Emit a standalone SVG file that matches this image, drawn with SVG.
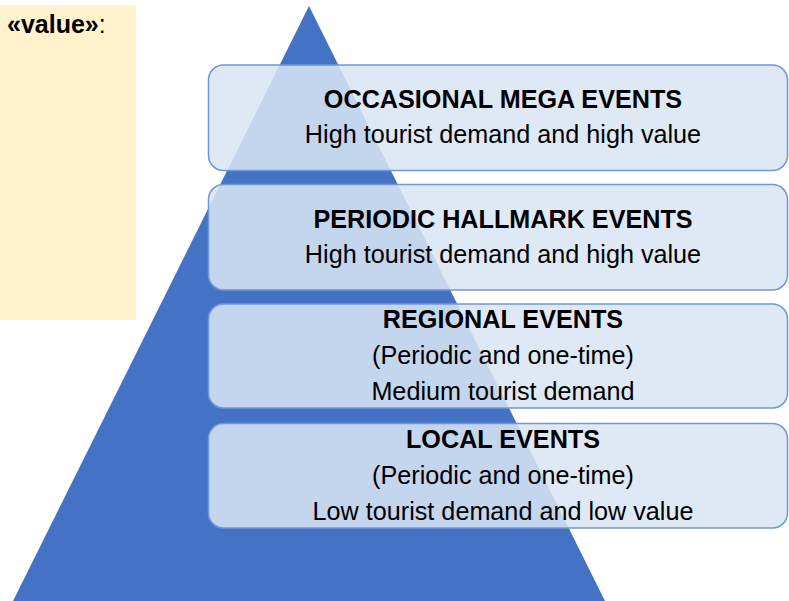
<svg xmlns="http://www.w3.org/2000/svg" width="789" height="601" viewBox="0 0 789 601">
  <style>
    .lbl { font-family: "Liberation Sans", Arial, sans-serif; fill: #000; text-anchor: middle; }
    .title { font-size: 25.2px; font-weight: bold; }
    .sub { font-size: 25.2px; }
    .tier { fill: #DAE5F4; fill-opacity: 0.86; stroke: #7196D8; stroke-width: 1.5; }
  </style>

  <rect width="789" height="601" fill="#FFFFFF"/>

  <!-- note panel -->
  <g id="value-note">
    <rect x="0" y="5" width="136" height="315" fill="#FFF2CC"/>
    <text x="7" y="33" font-family="Liberation Sans, Arial, sans-serif" font-size="25" fill="#000"><tspan font-weight="bold">«value»</tspan>:</text>
  </g>

  <!-- pyramid -->
  <g id="pyramid">
    <polygon points="309,6 605,601 13,601" fill="#4472C4"/>
  </g>

  <g id="tier-mega">
    <rect class="tier" x="208.5" y="65" width="579" height="105.5" rx="15"/>
    <text class="lbl title" x="503" y="108">OCCASIONAL MEGA EVENTS</text>
    <text class="lbl sub" x="503" y="143">High tourist demand and high value</text>
  </g>

  <g id="tier-hallmark">
    <rect class="tier" x="208.5" y="184.5" width="579" height="105.5" rx="15"/>
    <text class="lbl title" x="503" y="227.5">PERIODIC HALLMARK EVENTS</text>
    <text class="lbl sub" x="503" y="262.5">High tourist demand and high value</text>
  </g>

  <g id="tier-regional">
    <rect class="tier" x="208.5" y="304" width="579" height="104" rx="15"/>
    <text class="lbl title" x="503" y="328">REGIONAL EVENTS</text>
    <text class="lbl sub" x="503" y="364">(Periodic and one-time)</text>
    <text class="lbl sub" x="503" y="400">Medium tourist demand</text>
  </g>

  <g id="tier-local">
    <rect class="tier" x="208.5" y="423.5" width="579" height="104.5" rx="15"/>
    <text class="lbl title" x="503" y="448">LOCAL EVENTS</text>
    <text class="lbl sub" x="503" y="484">(Periodic and one-time)</text>
    <text class="lbl sub" x="503" y="520">Low tourist demand and low value</text>
  </g>

  <g id="connectors"></g>
</svg>
